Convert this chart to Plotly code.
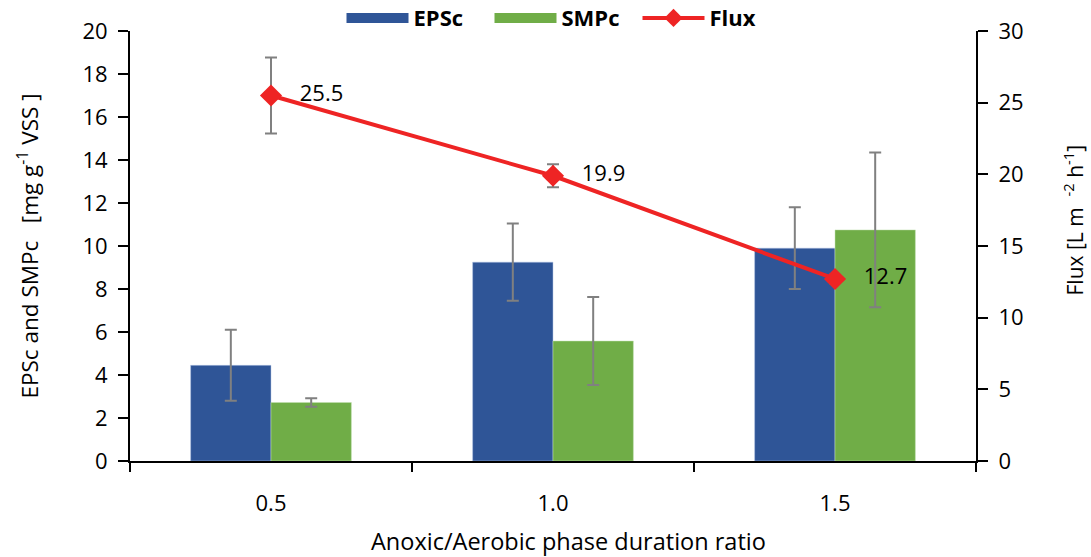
import plotly.graph_objects as go

categories = ["0.5", "1.0", "1.5"]
eps_vals = [4.45, 9.25, 9.9]
eps_err = [1.65, 1.8, 1.9]
smp_vals = [2.72, 5.58, 10.75]
smp_err = [0.2, 2.05, 3.6]
flux_vals = [25.5, 19.9, 12.7]
flux_err = [2.65, 0.8, 0.3]
flux_labels = ["25.5", "19.9", "12.7"]

FONT = "Open Sans"
ERR_COLOR = "#808080"
EPS_COLOR = "#2F5597"
SMP_COLOR = "#70AD47"
FLUX_COLOR = "#EE2424"

fig = go.Figure()
fig.add_trace(go.Bar(
    x=categories, y=eps_vals, name="EPSc", marker_color=EPS_COLOR,
    marker_line=dict(color="#B4C7E7", width=0.5), showlegend=False,
    error_y=dict(type="data", array=eps_err, color=ERR_COLOR, thickness=2, width=6),
))
fig.add_trace(go.Bar(
    x=categories, y=smp_vals, name="SMPc", marker_color=SMP_COLOR,
    marker_line=dict(color="#C5E0B4", width=0.5), showlegend=False,
    error_y=dict(type="data", array=smp_err, color=ERR_COLOR, thickness=2, width=6),
))
fig.add_trace(go.Scatter(
    x=categories, y=flux_vals, name="Flux", yaxis="y2",
    mode="lines+markers+text", showlegend=False,
    line=dict(color=FLUX_COLOR, width=4),
    marker=dict(symbol="diamond", size=17, color=FLUX_COLOR),
    text=["   " + t for t in flux_labels], textposition="middle right",
    textfont=dict(family=FONT, size=22, color="black"),
    error_y=dict(type="data", array=flux_err, color=ERR_COLOR, thickness=2, width=6),
))
# legend entries (wide swatches like the reference)
fig.add_trace(go.Scatter(x=[None], y=[None], name="EPSc", mode="lines",
                         line=dict(color=EPS_COLOR, width=14)))
fig.add_trace(go.Scatter(x=[None], y=[None], name="SMPc", mode="lines",
                         line=dict(color=SMP_COLOR, width=14)))
fig.add_trace(go.Scatter(x=[None], y=[None], name="Flux", mode="lines+markers",
                         line=dict(color=FLUX_COLOR, width=4),
                         marker=dict(symbol="diamond", size=14, color=FLUX_COLOR)))

fig.update_layout(
    width=1091, height=557,
    margin=dict(l=130, r=115, t=31, b=96, autoexpand=False),
    paper_bgcolor="white", plot_bgcolor="white",
    font=dict(family=FONT, size=21, color="black"),
    barmode="group", bargap=0.43, bargroupgap=0,
    showlegend=True,
    legend=dict(orientation="h", x=0.25, xanchor="left", y=1.03, yanchor="middle",
                font=dict(family=FONT, size=22, color="black", weight="bold"),
                bgcolor="rgba(0,0,0,0)", itemwidth=62, tracegroupgap=0,
                entrywidth=71, entrywidthmode="pixels"),
    xaxis=dict(
        type="category", showline=True, linecolor="black", linewidth=2,
        ticks="outside", tickson="boundaries", ticklen=9, tickcolor="black", tickwidth=2,
        ticklabelstandoff=22, tickfont=dict(size=22),
        showgrid=False, zeroline=False,
    ),
    yaxis=dict(
        range=[0, 20], dtick=2, showline=True, linecolor="black", linewidth=2,
        ticks="outside", ticklen=10, tickcolor="black", tickwidth=2,
        tickfont=dict(size=22), ticklabelstandoff=6,
        title=dict(text="EPSc and SMPc   [mg g<sup>-1</sup> VSS ]", font=dict(size=22.5), standoff=38),
        showgrid=False, zeroline=False,
    ),
    yaxis2=dict(
        range=[0, 30], dtick=5, overlaying="y", side="right",
        showline=True, linecolor="black", linewidth=2,
        ticks="outside", ticklen=10, tickcolor="black", tickwidth=2,
        tickfont=dict(size=22), ticklabelstandoff=6,
        showgrid=False, zeroline=False,
    ),
    annotations=[
        dict(text="Anoxic/Aerobic phase duration ratio", xref="paper", yref="paper",
             x=0.518, y=-0.186, xanchor="center", yanchor="middle", showarrow=False,
             font=dict(family=FONT, size=23.5, color="black")),
        dict(text="Flux [L m  <sup>-2</sup> h<sup>-1</sup>]", xref="paper", yref="paper",
             x=1.115, y=0.56, xanchor="center", yanchor="middle", showarrow=False,
             textangle=-90, font=dict(family=FONT, size=21, color="black")),
    ],
)

fig.write_html("out.html")
